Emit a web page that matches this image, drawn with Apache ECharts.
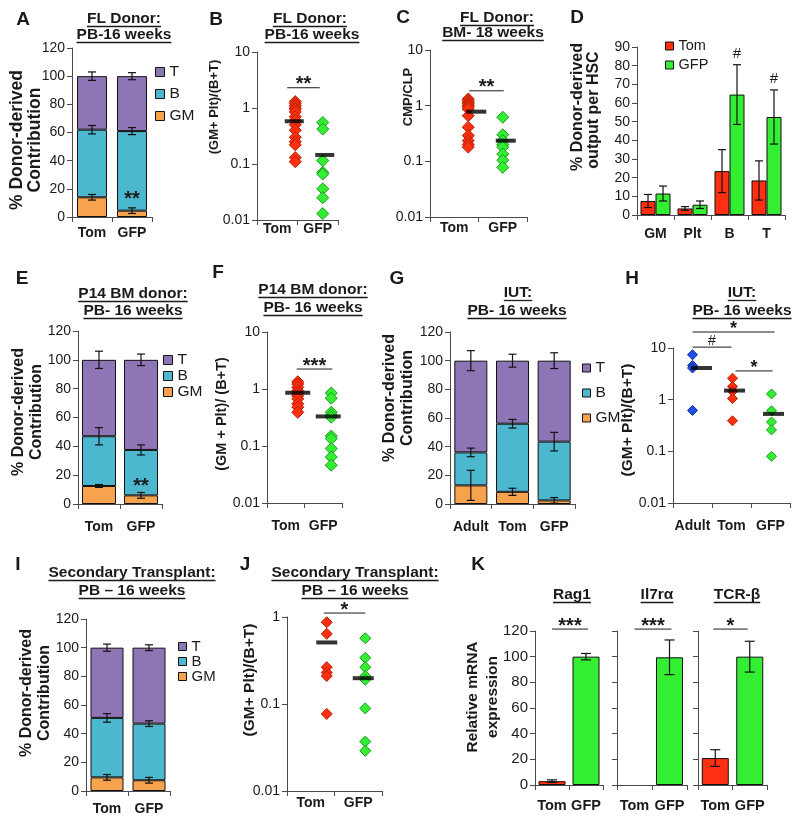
<!DOCTYPE html>
<html><head><meta charset="utf-8">
<script src="https://cdn.jsdelivr.net/npm/echarts@6/dist/echarts.min.js"></script>
<style>html,body{margin:0;padding:0;background:#fff}#c{width:800px;height:825px}</style>
</head><body><div id="c"></div>
<script>
// ================= DATA =================
const catsTG = ['Tom', 'GFP'];
// A: FL donor PB-16 weeks (stacked %)
const A_GM = [14, 4.5], A_B = [48, 56.5], A_T = [38, 39];
const A_GM_err = [2, 2], A_B_err = [3, 2.5], A_T_err = [3, 2.5];
// B: (GM+Plt)/(B+T)
const B_tom = [1.3, 1.2, 1.1, 1.0, 0.95, 0.85, 0.7, 0.6, 0.5, 0.4, 0.3, 0.25, 0.22, 0.13, 0.11];
const B_gfp = [0.55, 0.42, 0.115, 0.071, 0.066, 0.036, 0.025, 0.013];
const B_mean = [0.58, 0.145];
// C: CMP/CLP
const C_tom = [1.32, 1.25, 1.15, 1.08, 1.0, 0.95, 0.87, 0.66, 0.41, 0.29, 0.235, 0.2, 0.18];
const C_gfp = [0.62, 0.30, 0.235, 0.2, 0.18, 0.135, 0.105, 0.078];
const C_mean = [0.78, 0.235];
// D: output per HSC
const D_cats = ['GM', 'Plt', 'B', 'T'];
const D_tom = [7.5, 3.5, 23.5, 18.5], D_tom_err = [3.5, 1, 11.5, 10.5];
const D_gfp = [11.5, 5.5, 64.5, 52.5], D_gfp_err = [4, 2, 16, 14.5];
// E: P14 BM donor
const E_GM = [12.5, 6], E_B = [34.5, 31.5], E_T = [53, 62.5];
const E_GM_err = [1, 2], E_B_err = [6, 3.5], E_T_err = [6, 4];
// F
const F_tom = [1.34, 1.22, 1.07, 0.93, 0.85, 0.76, 0.67, 0.55, 0.48, 0.39];
const F_gfp = [0.85, 0.69, 0.39, 0.35, 0.32, 0.15, 0.135, 0.09, 0.064, 0.046];
const F_mean = [0.86, 0.33];
// G: IUT
const G_cats = ['Adult', 'Tom', 'GFP'];
const G_GM = [13, 8.5, 2.5], G_B = [23, 47.5, 41], G_T = [64, 44, 56.5];
const G_GM_err = [10.5, 2.5, 2], G_B_err = [3, 3, 6.5], G_T_err = [7, 4.5, 5.5];
// H
const H_adult = [7.4, 4.6, 4.1, 0.62];
const H_tom = [2.6, 1.8, 1.45, 1.05, 0.39];
const H_gfp = [1.29, 0.61, 0.37, 0.26, 0.08];
const H_mean = [4.1, 1.5, 0.53];
// I: secondary transplant
const I_GM = [9.5, 7.5], I_B = [41.5, 39.5], I_T = [49, 53];
const I_GM_err = [2, 2], I_B_err = [3, 2], I_T_err = [2.5, 2];
// J
const J_tom = [0.87, 0.64, 0.265, 0.23, 0.21, 0.077];
const J_gfp = [0.57, 0.34, 0.265, 0.21, 0.19, 0.089, 0.037, 0.029];
const J_mean = [0.51, 0.198];
// K: relative mRNA expression
const K_genes = ['Rag1', 'Il7rα', 'TCR-β'];
const K_tom = [3, 0, 21], K_tom_err = [1, 0, 6.5];
const K_gfp = [100, 99.5, 100], K_gfp_err = [2.5, 13.5, 12];

// ================= STYLE / LAYOUT =================
const FONT = '"Liberation Sans", Arial, Helvetica, sans-serif';
const AX = '#4a4a4a', TXT = '#1a1a1a';
const RED = '#ff2f12', RED_B = '#b52000', GREEN = '#33ee33', GREEN_B = '#1c9a1c', BLUE = '#1f4fe6', BLUE_B = '#0b2c99';
const C_T = '#8e75b6', C_B = '#4cb8cf', C_GM = '#f7a24d';
const BOX = {
  A: [72, 48, 80, 169], B: [257, 52, 81, 168], C: [430, 50, 97, 167], D: [637, 47, 148, 168],
  E: [78, 331, 84, 173], F: [267, 332, 75, 171], G: [450, 332, 125, 172], H: [673, 348, 117, 155],
  I: [86, 619, 84, 172], J: [287, 617, 95, 174],
  K0: [535, 631, 68, 154], K1: [617, 631, 70, 154], K2: [698, 631, 69, 154]
};
const GI = {};
const grids = [], xAxes = [], yAxes = [], series = [], legends = [];

function addGrid(key) {
  const b = BOX[key];
  grids.push({left: b[0], top: b[1], width: b[2], height: b[3], containLabel: false, outerBoundsMode: 'none'});
  GI[key] = grids.length - 1;
  return GI[key];
}
function catAxis(gi, data, margin, fs) {
  return {type: 'category', gridIndex: gi, data, boundaryGap: true,
    axisLine: {show: true, lineStyle: {color: AX, width: 1}},
    axisTick: {show: true, length: 5, lineStyle: {color: AX}},
    axisLabel: {interval: 0, margin, fontSize: fs || 14, fontWeight: 'bold', color: TXT, fontFamily: FONT},
    splitLine: {show: false}};
}
function linAxis(gi, max, interval, showLabel, fs) {
  return {type: 'value', gridIndex: gi, min: 0, max, interval,
    axisLine: {show: true, lineStyle: {color: AX, width: 1}},
    axisTick: {show: true, length: 5, lineStyle: {color: AX}},
    axisLabel: {show: showLabel !== false, margin: 7, fontSize: fs || 14, color: TXT, fontFamily: FONT},
    splitLine: {show: false}};
}
function logAxis(gi, min, max, fs) {
  return {type: 'log', logBase: 10, gridIndex: gi, min, max,
    axisLine: {show: true, lineStyle: {color: AX, width: 1}},
    axisTick: {show: true, length: 5, lineStyle: {color: AX}},
    minorTick: {show: false},
    axisLabel: {margin: 7, fontSize: fs || 14, color: TXT, fontFamily: FONT,
      formatter: v => String(+(+v).toPrecision(3))},
    splitLine: {show: false}, minorSplitLine: {show: false}};
}
function errSeries(gi, data, dx, cap) {
  return {type: 'custom', xAxisIndex: gi, yAxisIndex: gi, z: 6, silent: true, data,
    encode: {x: 0, y: 1},
    renderItem(p, api) {
      const i = api.value(0), v = api.value(1), e = api.value(2);
      if (!e) return null;
      const c = api.coord([i, v]);
      const hi = api.coord([i, v + e])[1], lo = api.coord([i, v - e])[1];
      const x = c[0] + dx;
      const st = {stroke: '#111', lineWidth: 1.2};
      return {type: 'group', children: [
        {type: 'line', shape: {x1: x, y1: hi, x2: x, y2: lo}, style: st},
        {type: 'line', shape: {x1: x - cap, y1: hi, x2: x + cap, y2: hi}, style: st},
        {type: 'line', shape: {x1: x - cap, y1: lo, x2: x + cap, y2: lo}, style: st}]};
    }};
}
function stackPanel(key, cats, GM, B, T, eGM, eB, eT, barW, margin) {
  const gi = addGrid(key);
  xAxes.push(catAxis(gi, cats, margin));
  yAxes.push(linAxis(gi, 120, 20));
  [['GM', GM, C_GM], ['B', B, C_B], ['T', T, C_T]].forEach(([n, d, c]) => series.push({
    type: 'bar', name: n, xAxisIndex: gi, yAxisIndex: gi, stack: 'st' + gi, barWidth: barW, data: d,
    itemStyle: {color: c, borderColor: '#111', borderWidth: 1}}));
  const err = [];
  cats.forEach((_, i) => {
    const g = GM[i], b = g + B[i], t = b + T[i];
    err.push([i, g, eGM[i]], [i, b, eB[i]], [i, t, eT[i]]);
  });
  series.push(errSeries(gi, err, 0, 4));
}
function scatterPanel(key, cats, groups, means, yMin, yMax, margin, o) {
  const gi = addGrid(key);
  xAxes.push(catAxis(gi, cats, margin));
  yAxes.push(logAxis(gi, yMin, yMax, o.fs));
  groups.forEach((g, ci) => series.push({
    type: 'scatter', name: key + ci, xAxisIndex: gi, yAxisIndex: gi, symbol: 'diamond',
    symbolSize: o.size, symbolOffset: [o.dot[ci], 0], z: 3,
    data: g.vals.map(v => [ci, v]),
    itemStyle: {color: g.color, borderColor: g.border, borderWidth: 1, opacity: 1}}));
  series.push({type: 'scatter', name: key + 'mean', xAxisIndex: gi, yAxisIndex: gi, symbol: 'rect', z: 4,
    symbolSize: [o.meanW, 4],
    data: means.map((m, i) => ({value: [i, m], symbolOffset: [o.meanOff[i], 0]})),
    itemStyle: {color: '#000'}});
}

// ---- panels ----
stackPanel('A', catsTG, A_GM, A_B, A_T, A_GM_err, A_B_err, A_T_err, 30, 9);
scatterPanel('B', catsTG, [{vals: B_tom, color: RED, border: RED_B}, {vals: B_gfp, color: GREEN, border: GREEN_B}],
  B_mean, 0.01, 10, 2, {size: 12, dot: [18, 5], meanW: 19, meanOff: [17, 7]});
scatterPanel('C', catsTG, [{vals: C_tom, color: RED, border: RED_B}, {vals: C_gfp, color: GREEN, border: GREEN_B}],
  C_mean, 0.01, 10, 4, {size: 12, dot: [14, 0], meanW: 20, meanOff: [22, 3]});
// D grouped bars
(function () {
  const gi = addGrid('D');
  xAxes.push(catAxis(gi, D_cats, 12, 14));
  yAxes.push(linAxis(gi, 90, 10));
  series.push({type: 'bar', name: 'Tom', xAxisIndex: gi, yAxisIndex: gi, barWidth: 15, barGap: '0%', data: D_tom,
    itemStyle: {color: RED, borderColor: '#111', borderWidth: 1}});
  series.push({type: 'bar', name: 'GFP', xAxisIndex: gi, yAxisIndex: gi, barWidth: 15, barGap: '0%', data: D_gfp,
    itemStyle: {color: GREEN, borderColor: '#111', borderWidth: 1}});
  series.push(errSeries(gi, D_tom.map((v, i) => [i, v, D_tom_err[i]]), -7.5, 4));
  series.push(errSeries(gi, D_gfp.map((v, i) => [i, v, D_gfp_err[i]]), 7.5, 4));
})();
stackPanel('E', catsTG, E_GM, E_B, E_T, E_GM_err, E_B_err, E_T_err, 34, 16);
scatterPanel('F', catsTG, [{vals: F_tom, color: RED, border: RED_B}, {vals: F_gfp, color: GREEN, border: GREEN_B}],
  F_mean, 0.01, 10, 16, {size: 12, dot: [12, 8], meanW: 25, meanOff: [12, 5]});
stackPanel('G', G_cats, G_GM, G_B, G_T, G_GM_err, G_B_err, G_T_err, 33, 16);
scatterPanel('H', G_cats, [{vals: H_adult, color: BLUE, border: BLUE_B}, {vals: H_tom, color: RED, border: RED_B},
  {vals: H_gfp, color: GREEN, border: GREEN_B}], H_mean, 0.01, 10, 16,
  {size: 10, dot: [0, 1, 1], meanW: 21, meanOff: [9, 3, 3]});
stackPanel('I', catsTG, I_GM, I_B, I_T, I_GM_err, I_B_err, I_T_err, 33, 11);
scatterPanel('J', catsTG, [{vals: J_tom, color: RED, border: RED_B}, {vals: J_gfp, color: GREEN, border: GREEN_B}],
  J_mean, 0.01, 1, 5, {size: 11, dot: [16, 7], meanW: 21, meanOff: [16, 5]});
// K three sub panels
K_genes.forEach((g, k) => {
  const gi = addGrid('K' + k);
  xAxes.push(catAxis(gi, catsTG, 13, 14.5));
  yAxes.push(linAxis(gi, 120, 20, k === 0, 15));
  series.push({type: 'bar', name: 'K' + g, xAxisIndex: gi, yAxisIndex: gi, barWidth: 27,
    data: [{value: K_tom[k], itemStyle: {color: RED, borderWidth: K_tom[k] ? 1 : 0}},
           {value: K_gfp[k], itemStyle: {color: GREEN}}],
    itemStyle: {borderColor: '#111', borderWidth: 1}});
  series.push(errSeries(gi, [[0, K_tom[k], K_tom_err[k]], [1, K_gfp[k], K_gfp_err[k]]], 0, 5));
});

// legends
function legend(data, left, top, fs, lh, gap, icon) {
  return {selectedMode: false, data, orient: 'vertical', left, top, padding: 0, itemWidth: icon, itemHeight: icon,
    itemGap: gap, icon: 'rect', textStyle: {fontSize: fs, lineHeight: lh, color: TXT, fontFamily: FONT},
    itemStyle: {borderColor: '#111', borderWidth: 1}};
}
legends.push(legend(['T', 'B', 'GM'], 155, 64, 15.5, 16, 6, 9));
legends.push(legend(['Tom', 'GFP'], 665, 38, 14.5, 16, 3, 8));
legends.push(legend(['T', 'B', 'GM'], 163, 352, 15.5, 14, 0, 9));
legends.push(legend(['T', 'B', 'GM'], 582, 360, 15.5, 16, 9, 8));
legends.push(legend(['T', 'B', 'GM'], 178, 639, 15, 13.5, 0, 8));

const chart = echarts.init(document.getElementById('c'), null, {renderer: 'canvas'});
chart.setOption({
  animation: false, backgroundColor: '#fff',
  textStyle: {fontFamily: FONT},
  grid: grids, xAxis: xAxes, yAxis: yAxes, series, legend: legends
});

// ================= TEXT ANNOTATIONS =================
const titles = [
  ['FL Donor:', 124, 19], ['PB-16 weeks', 124, 35],
  ['FL Donor:', 310, 19], ['PB-16 weeks', 312, 35],
  ['FL Donor:', 497, 18], ['BM- 18 weeks', 493, 33],
  ['P14 BM donor:', 133, 294], ['PB- 16 weeks', 133, 311],
  ['P14 BM donor:', 313, 290], ['PB- 16 weeks', 313, 308],
  ['IUT:', 518, 293], ['PB- 16 weeks', 517, 311],
  ['IUT:', 742, 293], ['PB- 16 weeks', 742, 311],
  ['Secondary Transplant:', 132, 573], ['PB – 16 weeks', 132, 591],
  ['Secondary Transplant:', 355, 573], ['PB – 16 weeks', 355, 591],
  ['Rag1', 572, 595], ['Il7rα', 657, 595], ['TCR-β', 737, 595]
];
const letters = [['A', 23, 20], ['B', 216, 20], ['C', 403, 18], ['D', 577, 18], ['E', 22, 279], ['F', 218, 273],
  ['G', 397, 279], ['H', 632, 279], ['I', 18, 565], ['J', 245, 565], ['K', 478, 565]];
const yNames = [
  ['% Donor-derived', 17, 140, 17.5], ['Contribution', 35, 140, 17.5],
  ['(GM+ Plt)/(B+T)', 214, 107, 13],
  ['CMP/CLP', 408, 97, 13],
  ['% Donor-derived', 578, 107, 16], ['output per HSC', 594, 110, 16],
  ['% Donor-derived', 19, 412, 16], ['Contribution', 37, 412, 16],
  ['(GM + Plt)/ (B+T)', 222, 414, 14.5],
  ['% Donor-derived', 390, 398, 16], ['Contribution', 408, 398, 16],
  ['(GM+ Plt)/(B+T)', 628, 420, 15.5],
  ['% Donor-derived', 27, 693, 16], ['Contribution', 45, 693, 16],
  ['(GM+ Plt)/(B+T)', 250, 680, 15.5],
  ['Relative mRNA', 473, 697, 15.5], ['expression', 493, 697, 15.5]
];
// significance bars: [panel, fromCat, toCat, yValue, text, dx1, dx2, fontSize]
const sigs = [
  ['B', 0, 1, 2.3, '**', 10, 2, 20], ['C', 0, 1, 1.85, '**', 15, 1, 20], ['F', 0, 1, 2.24, '***', 11, 9, 20],
  ['H', 0, 2, 20.4, '*', 0, 4, 18], ['H', 0, 1, 10.4, '#', 0, 0, 14], ['H', 1, 2, 3.6, '*', 4, 2, 18],
  ['J', 0, 1, 1.11, '*', 13, 7, 20],
  ['K0', 0, 1, 121.5, '***', 0, 2, 20], ['K1', 0, 1, 121.5, '***', 0, 2, 20], ['K2', 0, 1, 121.5, '*', -2, -2, 20]
];
// in-bar stars: [panel, cat, yValue, text]
const stars = [['A', 1, 15.6, '**'], ['E', 1, 15.2, '**']];

const mctx = document.createElement('canvas').getContext('2d');
function tw(s, font) { mctx.font = font; return mctx.measureText(s).width; }
function txt(s, x, y, font, rot, align, valign) {
  return {type: 'text', x, y, rotation: rot || 0, silent: true, z: 100,
    style: {text: s, font, fill: TXT, align: align || 'center', verticalAlign: valign || 'middle',
      textAlign: align || 'center', textVerticalAlign: valign || 'middle'}};
}
function line(x1, y1, x2, y2, w) {
  return {type: 'line', silent: true, z: 100, shape: {x1, y1, x2, y2}, style: {stroke: TXT, lineWidth: w || 1}};
}
const els = [];
titles.forEach(([s, x, y]) => {
  const f = `bold 15.5px ${FONT}`;
  const w = tw(s, f);
  els.push(txt(s, x, y, f));
  els.push(line(x - w / 2, y + 7.5, x + w / 2, y + 7.5, 1.3));
});
letters.forEach(([s, x, y]) => els.push(txt(s, x, y, `bold 19px ${FONT}`)));
yNames.forEach(([s, x, y, fs]) => els.push(txt(s, x, y, `bold ${fs}px ${FONT}`, Math.PI / 2)));
sigs.forEach(([k, a, b, v, s, d1, d2, fs]) => {
  const p1 = chart.convertToPixel({gridIndex: GI[k]}, [a, v]);
  const p2 = chart.convertToPixel({gridIndex: GI[k]}, [b, v]);
  els.push(line(p1[0] + d1, p1[1], p2[0] + d2, p2[1], 1));
  const font = (s === '#' ? '' : 'bold ') + fs + 'px ' + FONT;
  els.push(txt(s, (p1[0] + d1 + p2[0] + d2) / 2, p1[1] - (s === '#' ? 6 : 3), font));
});
stars.forEach(([k, c, v, s]) => {
  const p = chart.convertToPixel({gridIndex: GI[k]}, [c, v]);
  els.push(txt(s, p[0], p[1] + 4, `bold 20px ${FONT}`));
});
// '#' markers in D above GFP error bars (B and T)
[2, 3].forEach(i => {
  const p = chart.convertToPixel({gridIndex: GI.D}, [i, D_gfp[i] + D_gfp_err[i]]);
  els.push(txt('#', p[0] + 7.5, p[1] - 11, `15px ${FONT}`));
});
chart.setOption({graphic: {elements: els}});
</script>
</body></html>
